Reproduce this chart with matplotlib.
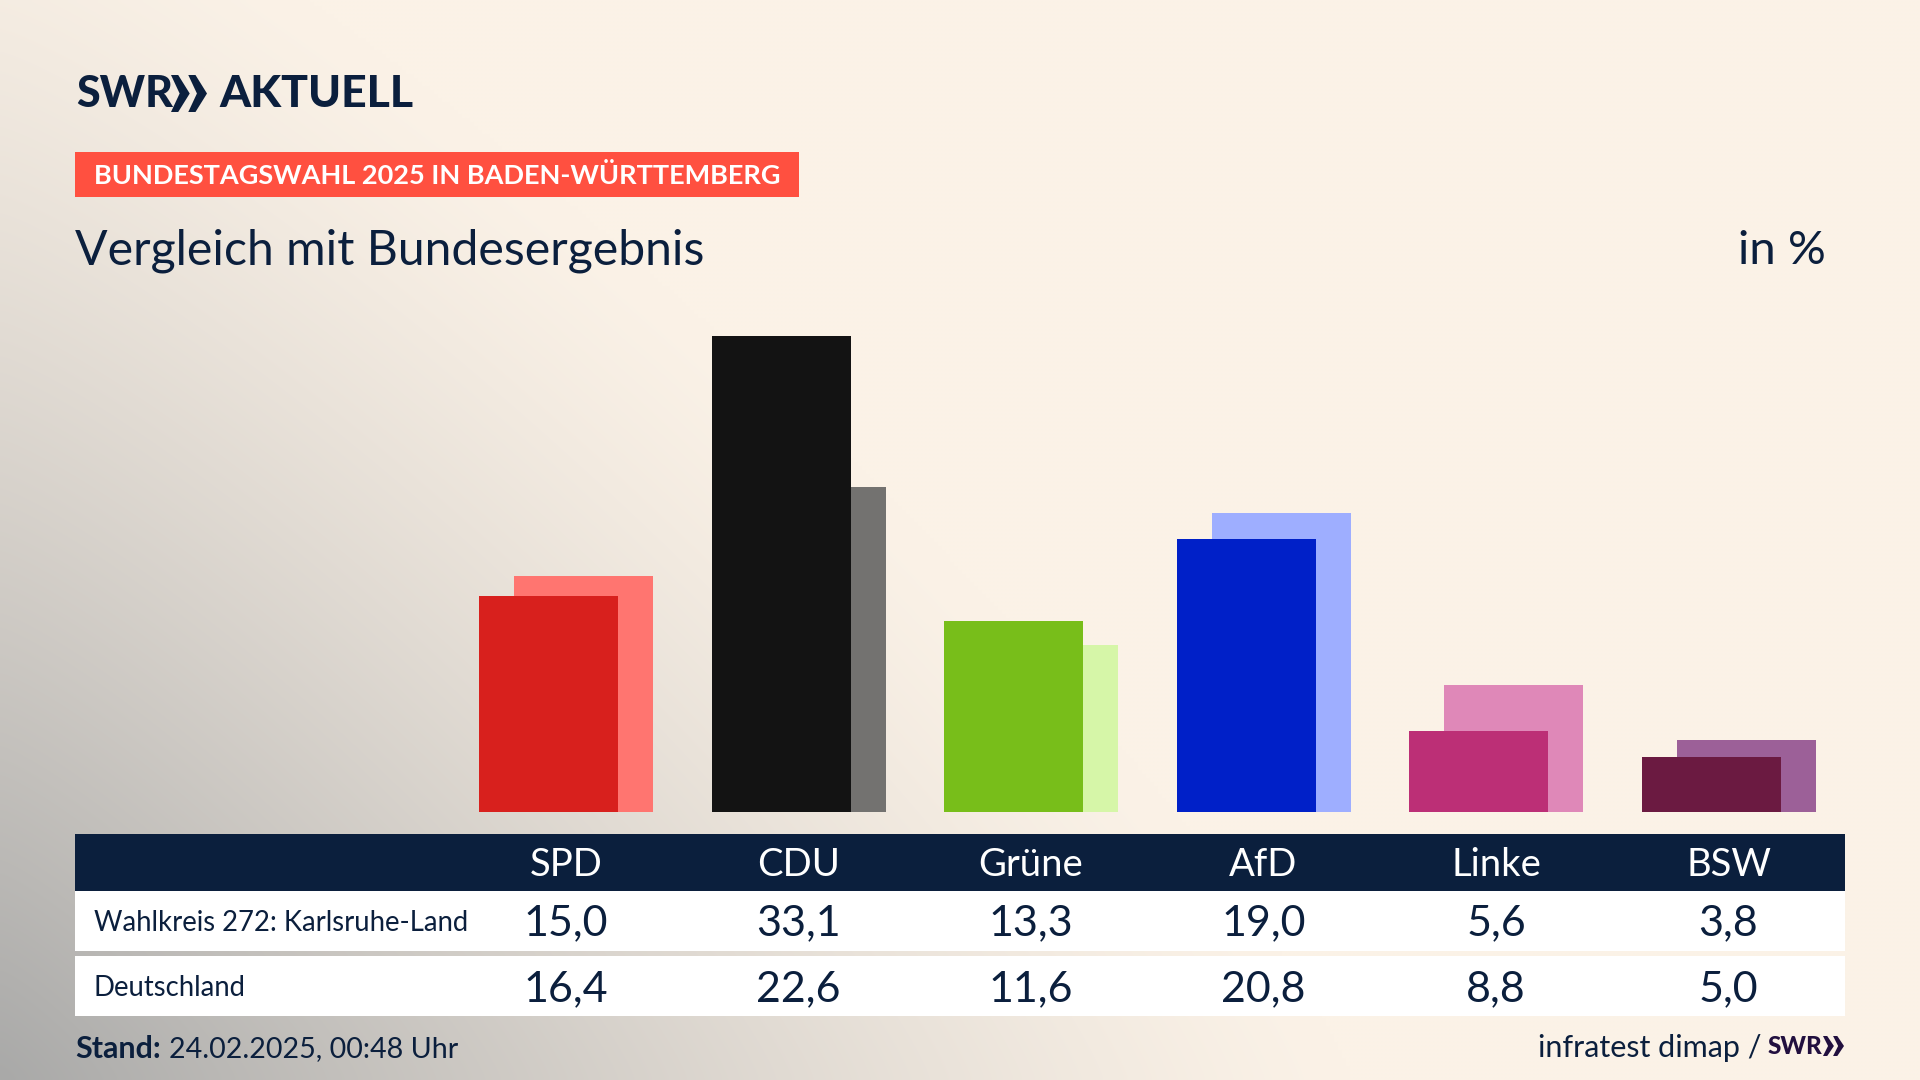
import numpy as np
import matplotlib.pyplot as plt
from matplotlib.patches import Rectangle, Polygon
from matplotlib.colors import to_rgb

parties = ['SPD', 'CDU', 'Grüne', 'AfD', 'Linke', 'BSW']
row_labels = ['Wahlkreis 272: Karlsruhe-Land', 'Deutschland']
wahlkreis = [15.0, 33.1, 13.3, 19.0, 5.6, 3.8]
deutschland = [16.4, 22.6, 11.6, 20.8, 8.8, 5.0]
front_colors = ['#d8201d', '#131313', '#78be1a', '#0020c8', '#bc2f76', '#6b1a41']
back_colors = ['#ff7570', '#737270', '#d6f6a8', '#9eaeff', '#df88b8', '#9c6098']

NAVY = '#0b1f3d'
BASE = '#fbf2e7'
GRAY = '#a9a9a8'

plt.rcParams['font.family'] = ['Lato', 'DejaVu Sans']

fig = plt.figure(figsize=(19.2, 10.8), dpi=100)

# page layer, works in pixels from the top left
page = fig.add_axes([0, 0, 1, 1])
page.set_xlim(0, 1920)
page.set_ylim(1080, 0)
page.axis('off')

# grey glow out of the bottom left corner
xx, yy = np.meshgrid(np.linspace(0, 1920, 480), np.linspace(0, 1080, 270))
dist = ((xx / 1350) ** 1.2 + ((1080 - yy) / 1260) ** 1.2) ** (1 / 1.2)
t = np.clip(1 - dist, 0, 1) ** 1.3
bg = np.array(to_rgb(BASE)) * (1 - t[..., None]) + np.array(to_rgb(GRAY)) * t[..., None]
page.imshow(bg, extent=(0, 1920, 1080, 0), aspect='auto', interpolation='bilinear', zorder=0)


def chevrons(x, y, w, h, color):
    # the two >> of the SWR logo
    for off in (0, w * 0.48):
        page.add_patch(Polygon([(x + off, y), (x + off + w * 0.2, y), (x + off + w * 0.52, y + h / 2),
                                (x + off + w * 0.2, y + h), (x + off, y + h), (x + off + w * 0.24, y + h / 2)],
                               color=color, lw=0, zorder=3))


page.text(76, 94, 'SWR', fontsize=31, fontweight='black', color=NAVY, va='center', ha='left', zorder=3)
chevrons(171, 75, 36, 37, NAVY)
page.text(219, 94, 'AKTUELL', fontsize=32, fontweight='black', color=NAVY, va='center', ha='left', zorder=3)

page.add_patch(Rectangle((75, 152), 724, 45, color='#ff5040', lw=0, zorder=2))
page.text(94, 176, 'BUNDESTAGSWAHL 2025 IN BADEN-WÜRTTEMBERG', fontsize=19.55, fontweight='bold',
          color='white', va='center', ha='left', zorder=3)
page.text(75, 251, 'Vergleich mit Bundesergebnis', fontsize=34.7, color=NAVY, va='center', ha='left', zorder=3)
page.text(1826, 251, 'in %', fontsize=34, color=NAVY, va='center', ha='right', zorder=3)

# table
page.add_patch(Rectangle((75, 834), 1770, 57, color=NAVY, lw=0, zorder=2))
page.add_patch(Rectangle((75, 891), 1770, 60, color='white', lw=0, zorder=2))
page.add_patch(Rectangle((75, 956), 1770, 60, color='white', lw=0, zorder=2))

col_x = 566 + 232.5 * np.arange(len(parties))
for x, name, a, b in zip(col_x, parties, wahlkreis, deutschland):
    page.text(x, 865, name, fontsize=27.5, color='white', va='center', ha='center', zorder=3)
    page.text(x, 923, f'{a:.1f}'.replace('.', ','), fontsize=31, color=NAVY, va='center', ha='center', zorder=3)
    page.text(x, 989, f'{b:.1f}'.replace('.', ','), fontsize=31, color=NAVY, va='center', ha='center', zorder=3)
page.text(94, 923, row_labels[0], fontsize=19.8, color=NAVY, va='center', ha='left', zorder=3)
page.text(94, 988, row_labels[1], fontsize=19.8, color=NAVY, va='center', ha='left', zorder=3)

# footer
page.text(75, 1049, 'Stand:', fontsize=22, fontweight='bold', color=NAVY, va='center', ha='left', zorder=3)
page.text(169, 1049, '24.02.2025, 00:48 Uhr', fontsize=20.6, color=NAVY, va='center', ha='left', zorder=3)
page.text(1762, 1048, 'infratest dimap /', fontsize=22, color=NAVY, va='center', ha='right', zorder=3)
page.text(1768, 1047, 'SWR', fontsize=17.5, fontweight='black', color='#22103f', va='center', ha='left', zorder=3)
chevrons(1823, 1036, 21, 20, '#22103f')

# bars, one slot per party
ax = fig.add_axes([449.75 / 1920, (1080 - 812) / 1080, 1395 / 1920, 512 / 1080])
ax.patch.set_alpha(0)
ax.set_xlim(-0.5, 5.5)
ax.set_ylim(0, 512 / 14.38)
ax.axis('off')
pos = np.arange(len(parties))
ax.bar(pos + 0.0765, deutschland, width=0.5975, color=back_colors, linewidth=0)
ax.bar(pos - 0.0745, wahlkreis, width=0.5975, color=front_colors, linewidth=0)

fig.savefig('out.png', dpi=100)
